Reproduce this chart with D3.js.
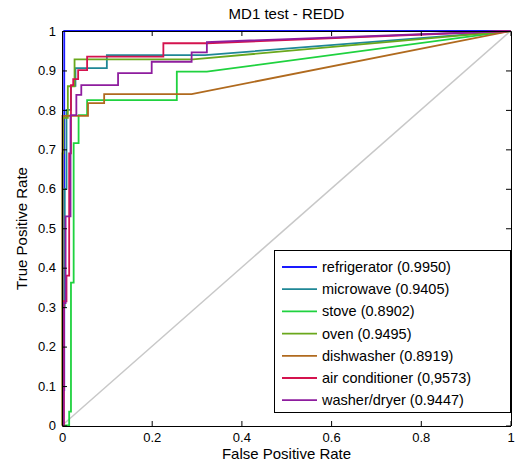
<!DOCTYPE html>
<html>
<head>
<meta charset="utf-8">
<script src="https://cdn.jsdelivr.net/npm/d3@7"></script>
<style>
  body { margin: 0; background: #fff; }
  svg text { font-family: "Liberation Sans", Arial, sans-serif; }
</style>
</head>
<body>
<svg id="chart" width="516" height="464"></svg>
<script>
// series names and AUC, as in the legend
const names = ["refrigerator", "microwave", "stove", "oven", "dishwasher", "air conditioner", "washer/dryer"];
const aucLabels = ["(0.9950)", "(0.9405)", "(0.8902)", "(0.9495)", "(0.8919)", "(0,9573)", "(0.9447)"];
const colors = ["#1a1aff", "#1f8796", "#1fd23f", "#6aa81c", "#b06a1e", "#d4134e", "#8e1d9e"];

// ROC points [fpr, tpr]
const refrigerator = [[0, 0], [0.004, 0], [0.004, 0.09], [0.005, 0.09], [0.005, 1], [1, 1]];
const microwave = [[0, 0], [0.002, 0], [0.002, 0.3], [0.006, 0.3], [0.006, 0.6], [0.01, 0.6], [0.01, 0.8],
  [0.02, 0.8], [0.02, 0.861], [0.03, 0.861], [0.03, 0.906], [0.1, 0.906], [0.1, 0.939], [0.319, 0.939], [1, 1]];
const stove = [[0, 0], [0.016, 0], [0.016, 0.035], [0.02, 0.035], [0.02, 0.362], [0.026, 0.362], [0.026, 0.716],
  [0.037, 0.716], [0.037, 0.787], [0.056, 0.787], [0.056, 0.825], [0.256, 0.825], [0.256, 0.897], [0.323, 0.897], [1, 1]];
const oven = [[0, 0], [0.001, 0], [0.001, 0.69], [0.003, 0.69], [0.003, 0.78], [0.013, 0.78], [0.013, 0.86],
  [0.028, 0.86], [0.028, 0.928], [0.292, 0.928], [1, 1]];
const dishwasher = [[0, 0], [0.001, 0], [0.001, 0.785], [0.058, 0.785], [0.058, 0.817], [0.094, 0.817],
  [0.094, 0.84], [0.289, 0.84], [1, 1]];
const airConditioner = [[0, 0], [0.004, 0], [0.004, 0.315], [0.01, 0.315], [0.01, 0.38], [0.016, 0.38],
  [0.016, 0.69], [0.02, 0.69], [0.02, 0.863], [0.025, 0.863], [0.025, 0.878], [0.036, 0.878], [0.036, 0.901],
  [0.056, 0.901], [0.056, 0.935], [0.226, 0.935], [0.226, 0.969], [0.323, 0.969], [1, 1]];
const washerDryer = [[0, 0], [0.002, 0], [0.002, 0.31], [0.008, 0.31], [0.008, 0.53], [0.019, 0.53],
  [0.019, 0.787], [0.032, 0.787], [0.032, 0.838], [0.043, 0.838], [0.043, 0.863], [0.125, 0.863],
  [0.125, 0.893], [0.2, 0.893], [0.2, 0.922], [0.289, 0.922], [0.289, 0.946], [0.323, 0.946], [0.323, 0.972], [1, 1]];
const chance = [[0, 0], [1, 1]];

const xTicks = [0, 0.2, 0.4, 0.6, 0.8, 1];
const xTickLabels = ["0", "0.2", "0.4", "0.6", "0.8", "1"];
const yTicks = [0, 0.1, 0.2, 0.3, 0.4, 0.5, 0.6, 0.7, 0.8, 0.9, 1];
const yTickLabels = ["0", "0.1", "0.2", "0.3", "0.4", "0.5", "0.6", "0.7", "0.8", "0.9", "1"];

const series = [refrigerator, microwave, stove, oven, dishwasher, airConditioner, washerDryer];

const margin = { top: 31, right: 5, bottom: 38, left: 62 };
const width = 516 - margin.left - margin.right;
const height = 464 - margin.top - margin.bottom;

const svg = d3.select("#chart");
const g = svg.append("g").attr("transform", `translate(${margin.left},${margin.top})`);

const xScale = d3.scaleLinear().domain([0, 1]).range([0, width - 0.5]);
const yScale = d3.scaleLinear().domain([0, 1]).range([height - 0.5, 0]);

g.append("clipPath").attr("id", "clip")
  .append("rect").attr("x", -1).attr("y", -1).attr("width", width + 1).attr("height", height + 1);

const line = d3.line()
  .x(d => xScale(d[0]))
  .y(d => yScale(d[1]));

// chance diagonal
g.append("path")
  .datum(chance)
  .attr("fill", "none")
  .attr("stroke", "#c8c8c8")
  .attr("stroke-width", 1.5)
  .attr("d", line);

// ROC curves
g.append("g").attr("clip-path", "url(#clip)")
  .selectAll("path")
  .data(series)
  .join("path")
  .attr("fill", "none")
  .attr("stroke", (d, i) => colors[i])
  .attr("stroke-width", 1.8)
  .attr("d", line);

// axes, ticks inside on all four sides
const fmtX = d => xTickLabels[xTicks.indexOf(d)];
const fmtY = d => yTickLabels[yTicks.indexOf(d)];

const styleAxis = sel => {
  sel.select(".domain").attr("stroke", "#000").attr("stroke-width", 1);
  sel.selectAll(".tick line").attr("stroke", "#000");
  sel.selectAll(".tick text").attr("fill", "#000").style("font-size", "13px");
};

g.append("g")
  .attr("transform", `translate(0,${height})`)
  .call(d3.axisBottom(xScale).tickValues(xTicks).tickFormat(fmtX).tickSize(-5).tickSizeOuter(0).tickPadding(7))
  .call(styleAxis);

g.append("g")
  .call(d3.axisLeft(yScale).tickValues(yTicks).tickFormat(fmtY).tickSize(-5).tickSizeOuter(0).tickPadding(6))
  .call(styleAxis);

g.append("g")
  .call(d3.axisTop(xScale).tickValues(xTicks).tickFormat("").tickSize(-5).tickSizeOuter(0))
  .call(styleAxis);

g.append("g")
  .attr("transform", `translate(${width},0)`)
  .call(d3.axisRight(yScale).tickValues(yTicks).tickFormat("").tickSize(-5).tickSizeOuter(0))
  .call(styleAxis);

// legend
const legend = g.append("g").attr("transform", `translate(${274 - margin.left},${250 - margin.top})`);
legend.append("rect")
  .attr("x", 0.5).attr("y", 0.5)
  .attr("width", 236).attr("height", 162)
  .attr("fill", "#fff").attr("stroke", "#000").attr("stroke-width", 1);

const rows = legend.selectAll("g.row")
  .data(names)
  .join("g")
  .attr("class", "row")
  .attr("transform", (d, i) => `translate(0,${17 + i * 22.2})`);

rows.append("line")
  .attr("x1", 8).attr("x2", 43)
  .attr("stroke", (d, i) => colors[i])
  .attr("stroke-width", 1.8);

rows.append("text")
  .attr("x", 48).attr("y", 5)
  .style("font-size", "14.5px")
  .attr("fill", "#000")
  .text((d, i) => `${d} ${aucLabels[i]}`);

// title and axis labels
svg.append("text")
  .attr("x", margin.left + width / 2).attr("y", 19)
  .attr("text-anchor", "middle")
  .style("font-size", "15px")
  .text("MD1 test - REDD");

svg.append("text")
  .attr("x", margin.left + width / 2).attr("y", 459)
  .attr("text-anchor", "middle")
  .style("font-size", "15px")
  .text("False Positive Rate");

svg.append("text")
  .attr("transform", `translate(27,${margin.top + height / 2}) rotate(-90)`)
  .attr("text-anchor", "middle")
  .style("font-size", "15px")
  .text("True Positive Rate");
</script>
</body>
</html>
